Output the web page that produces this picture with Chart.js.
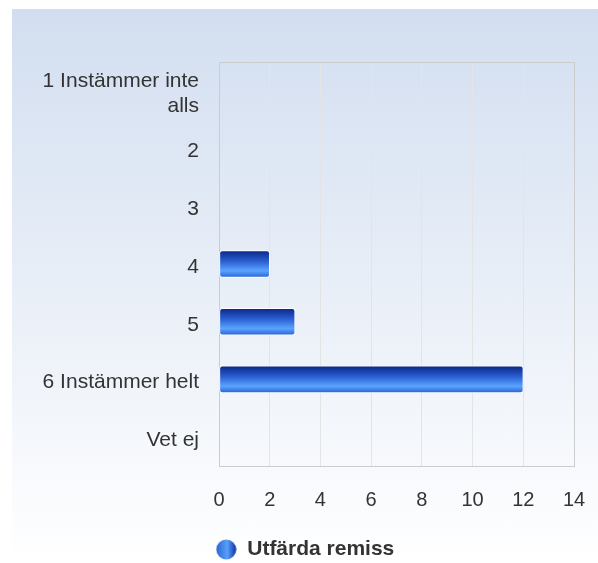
<!DOCTYPE html>
<html>
<head>
<meta charset="utf-8">
<script src="https://cdn.jsdelivr.net/npm/chart.js@4.4.0/dist/chart.umd.min.js"></script>
<style>
  body { margin: 0; background: #fff; }
  #wrap {
    position: absolute; left: 12px; top: 9px; width: 586px; height: 554px;
    background: linear-gradient(#d2def0, #ffffff);
  }
</style>
</head>
<body>
<div id="wrap"><canvas id="bar" width="586" height="554"></canvas></div>
<script>
let answers = [
  ["1 Instämmer inte", "alls"],
  "2",
  "3",
  "4",
  "5",
  "6 Instämmer helt",
  "Vet ej",
];
let remiss = [0, 0, 0, 2, 3, 12, 0];
let xTicks = [0, 2, 4, 6, 8, 10, 12, 14];

// vertical gradient for each bar, from the y scale position of its category
function barFill(c) {
  let chart = c.chart;
  let y = chart.scales.y;
  if (!y || c.dataIndex === undefined) return "#2a62d4";
  let cy = y.getPixelForValue(c.dataIndex);
  if (!isFinite(cy)) return "#2a62d4";
  let g = chart.ctx.createLinearGradient(0, cy - 13.5, 0, cy + 13.5);
  g.addColorStop(0, "#0a2784");
  g.addColorStop(0.4, "#2a5fd2");
  g.addColorStop(0.75, "#5ba3ff");
  g.addColorStop(1, "#2862d2");
  return g;
}

// legend marker: round dot with sideways gradient
let dot = document.createElement("canvas");
dot.width = 21;
dot.height = 21;
let dctx = dot.getContext("2d");
let dg = dctx.createLinearGradient(0, 0, 21, 0);
dg.addColorStop(0, "#2a62d4");
dg.addColorStop(0.55, "#5aa0f8");
dg.addColorStop(0.8, "#2c5ccc");
dg.addColorStop(1, "#0c2c8a");
dctx.fillStyle = dg;
dctx.beginPath();
dctx.arc(10.5, 10.5, 10, 0, Math.PI * 2);
dctx.fill();

let plotBorder = {
  id: "plotBorder",
  afterLayout(chart) {
    // center the legend on the whole box, not the padded one
    chart.legend.left += 12;
    chart.legend.right += 12;
  },
  beforeDatasetsDraw(chart) {
    let a = chart.chartArea;
    let c = chart.ctx;
    c.save();
    c.strokeStyle = "#cccccc";
    c.lineWidth = 1;
    c.strokeRect(a.left + 0.5, a.top + 0.5, a.right - a.left, a.bottom - a.top);
    c.restore();
  },
};

Chart.defaults.font.family = "'Liberation Sans', Arial, sans-serif";
Chart.defaults.font.size = 20;
Chart.defaults.color = "#333333";

let ctx = document.getElementById("bar").getContext("2d");
let bar = new Chart(ctx, {
  type: "bar",
  data: {
    labels: answers,
    datasets: [
      {
        label: "Utfärda remiss",
        data: remiss,
        backgroundColor: barFill,
        borderColor: "#ffffff",
        borderWidth: 1,
        borderRadius: 3,
        borderSkipped: false,
        barThickness: 27,
      },
    ],
  },
  options: {
    indexAxis: "y",
    responsive: false,
    animation: false,
    layout: { padding: { top: 53, right: 24, left: 0, bottom: -7 } },
    scales: {
      x: {
        min: 0,
        max: 14,
        afterBuildTicks(s) {
          s.ticks = xTicks.map((v) => ({ value: v }));
        },
        afterFit(s) {
          s.height = 63;
          s.paddingLeft = 0;
          s.paddingRight = 0;
        },
        grid: { color: "#e4e4e4", drawTicks: false },
        border: { display: false },
        ticks: { padding: 22, maxRotation: 0 },
      },
      y: {
        afterFit(s) {
          s.width = 207;
        },
        grid: { display: false, drawTicks: false },
        border: { color: "#cccccc" },
        ticks: { padding: 20, labelOffset: 3, font: { size: 21, lineHeight: 1.2 } },
      },
    },
    plugins: {
      legend: {
        position: "bottom",
        labels: {
          usePointStyle: true,
          pointStyle: dot,
          padding: 10,
          font: { weight: "bold", size: 21 },
        },
      },
      tooltip: { enabled: false },
    },
  },
  plugins: [plotBorder],
});
</script>
</body>
</html>
